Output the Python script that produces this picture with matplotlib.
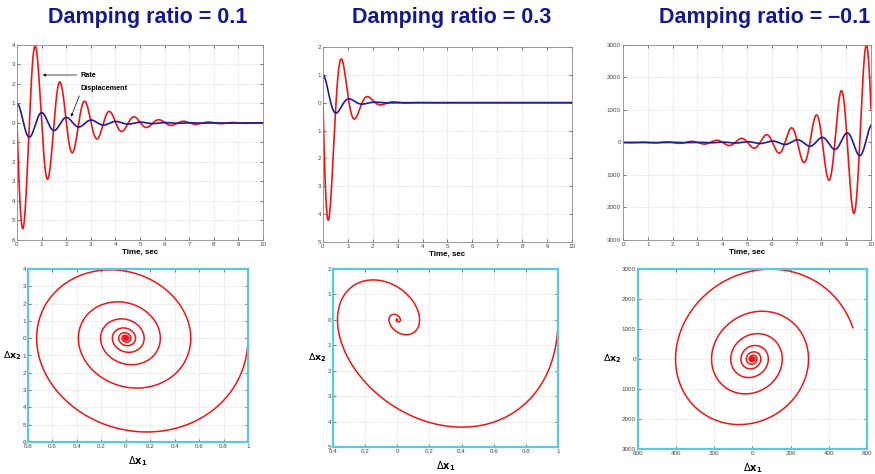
import numpy as np
import matplotlib.pyplot as plt
from matplotlib.ticker import FuncFormatter

# second-order system  x1' = x2,  x2' = -wn^2 x1 - 2 zeta wn x2
damping = [0.1, 0.3, -0.1]
titles = ["Damping ratio = 0.1", "Damping ratio = 0.3", "Damping ratio = \u20130.1"]
wn = 2 * np.pi
x0 = np.array([1.0, 0.0])
t = np.linspace(0, 10, 4001)

rate_lim = [(-6, 4), (-5, 2), (-3000, 3000)]
rate_step = [1, 1, 1000]
x1_lim = [(-0.8, 1), (-0.4, 1), (-600, 600)]
x1_step = [0.2, 0.2, 200]

red = "#f01414"
navy = "#1c1c96"
cyan = "#5ac8de"
title_col = "#141a8a"


def response(zeta):
    A = np.array([[0.0, 1.0], [-wn**2, -2 * zeta * wn]])
    lam, V = np.linalg.eig(A)
    c = np.linalg.solve(V, x0)
    X = (V[:, :, None] * (c[:, None] * np.exp(np.outer(lam, t)))[None, :, :]).sum(axis=1)
    return X.real


def nominus(v, pos):
    return "%g" % abs(round(v, 6))


def style(ax, frame):
    ax.grid(True, color="#d0d0d0", linestyle=":", linewidth=0.6)
    ax.tick_params(direction="in", length=2, width=0.5, labelsize=4.5,
                   colors="#444444", top=True, right=True, pad=1.5)
    for sp in ax.spines.values():
        if frame == "cyan":
            sp.set_color(cyan)
            sp.set_linewidth(1.6)
        else:
            sp.set_color("#8a8a8a")
            sp.set_linewidth(0.6)
    ax.xaxis.set_major_formatter(FuncFormatter(nominus))
    ax.yaxis.set_major_formatter(FuncFormatter(nominus))


fig = plt.figure(figsize=(8.75, 4.74), dpi=100)
plt.rcParams['font.family'] = ['Liberation Sans', 'DejaVu Sans']

top_boxes = [[0.0194, 0.4937, 0.2811, 0.4114],
             [0.3691, 0.4895, 0.2846, 0.4114],
             [0.7120, 0.4937, 0.2834, 0.4114]]
bot_boxes = [[0.0320, 0.0675, 0.2514, 0.3650],
             [0.3806, 0.0570, 0.2571, 0.3755],
             [0.7291, 0.0527, 0.2617, 0.3797]]
title_x = [148, 452, 765]

for i, zeta in enumerate(damping):
    x1, x2 = response(zeta)

    ax = fig.add_axes(top_boxes[i])
    ax.plot(t, x2, color=red, linewidth=1.2)
    ax.plot(t, x1, color=navy, linewidth=1.2)
    ax.set_xlim(0, 10)
    ax.set_ylim(*rate_lim[i])
    ax.set_xticks(np.arange(0, 11, 1))
    ax.set_yticks(np.arange(rate_lim[i][0], rate_lim[i][1] + rate_step[i] / 2, rate_step[i]))
    style(ax, "gray")
    ax.set_xlabel("Time, sec", fontsize=5.8, fontweight="bold", labelpad=1)
    if i == 0:
        ax.annotate("Rate", xy=(1.05, 2.46), xytext=(2.6, 2.46), fontsize=5.2,
                    fontweight="bold", va="center",
                    arrowprops=dict(arrowstyle="-|>", color="black", lw=0.5,
                                    mutation_scale=4, shrinkA=1, shrinkB=0))
        ax.annotate("Displacement", xy=(2.2, 0.32), xytext=(2.6, 1.78), fontsize=5.2,
                    fontweight="bold", va="center",
                    arrowprops=dict(arrowstyle="-|>", color="black", lw=0.5,
                                    mutation_scale=4, shrinkA=1, shrinkB=0,
                                    relpos=(0.0, 0.0)))

    bx = fig.add_axes(bot_boxes[i])
    bx.plot(x1, x2, color=red, linewidth=1.1)
    bx.set_xlim(*x1_lim[i])
    bx.set_ylim(*rate_lim[i])
    bx.set_xticks(np.arange(x1_lim[i][0], x1_lim[i][1] + x1_step[i] / 2, x1_step[i]))
    bx.set_yticks(np.arange(rate_lim[i][0], rate_lim[i][1] + rate_step[i] / 2, rate_step[i]))
    style(bx, "cyan")
    bx.set_xlabel(r"$\Delta\mathbf{x}_\mathbf{1}$", fontsize=7, labelpad=4)
    bx.set_ylabel(r"$\Delta\mathbf{x}_\mathbf{2}$", fontsize=6.8, rotation=0,
                  labelpad=7, va="center")

    fig.text(title_x[i] / 875, 1 - 17 / 474, titles[i], ha="center", va="center",
             fontsize=15.5, fontweight="bold", color=title_col)

fig.savefig("out.png", dpi=100)
